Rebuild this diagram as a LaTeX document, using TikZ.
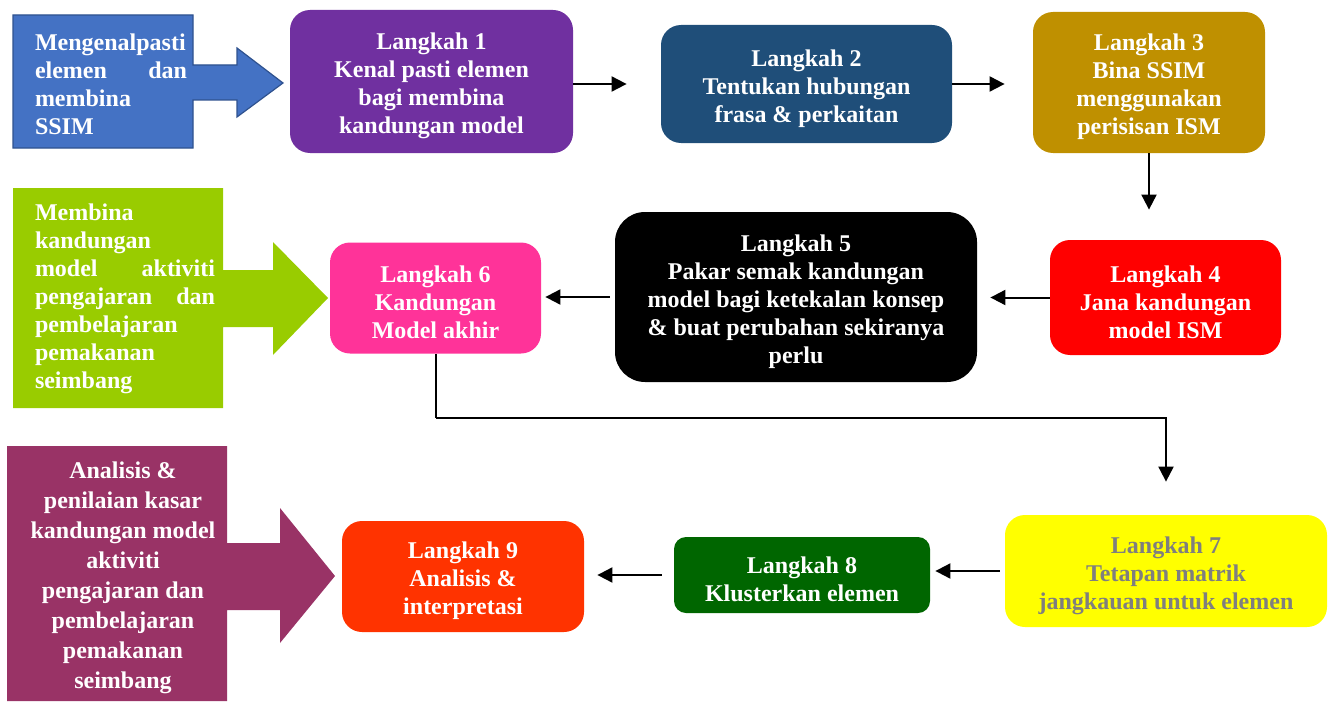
\documentclass[tikz,border=0pt]{standalone}
\usepackage{fontspec}
\setmainfont{Liberation Serif}
\usetikzlibrary{arrows.meta,positioning}
\definecolor{introblue}{HTML}{4472C4}
\definecolor{introedge}{HTML}{2F528F}
\definecolor{buildgreen}{HTML}{99CC00}
\definecolor{analysemaroon}{HTML}{993366}
\definecolor{purple1}{HTML}{7030A0}
\definecolor{navy2}{HTML}{1F4E79}
\definecolor{gold3}{HTML}{BF9000}
\definecolor{red4}{HTML}{FF0000}
\definecolor{pink6}{HTML}{FF3399}
\definecolor{yellow7}{HTML}{FFFF00}
\definecolor{grey7}{HTML}{7F7F7F}
\definecolor{green8}{HTML}{006600}
\definecolor{orange9}{HTML}{FF3300}
\newcommand{\padtop}{\rule{0pt}{13pt}}
\tikzset{
  box/.style={rounded corners=10pt, align=center, text=white, font=\bfseries\fontsize{12}{14}\selectfont, inner sep=3pt},
  stepbox/.style={box, fill=#1},
  sidetext/.style={align=left, text=white, font=\bfseries\fontsize{12}{14}\selectfont, inner sep=0pt},
  arrow/.style={-{Triangle[length=7.5pt,width=7.5pt]}, line width=1pt, draw=black}
}

\begin{document}
\begin{tikzpicture}[x=0.5pt,y=-0.5pt]
\useasboundingbox (0,0) rectangle (1332,701);
% side banners
\filldraw[fill=introblue, draw=introedge, line width=0.6pt] (13,15) -- (193,15) -- (193,65) -- (237,65) -- (237,48) -- (283,83) -- (237,117) -- (237,100) -- (193,100) -- (193,148) -- (13,148) -- cycle;
\fill[buildgreen] (13,188) -- (223,188) -- (223,270) -- (273,270) -- (273,242) -- (328,298) -- (273,355) -- (273,327) -- (223,327) -- (223,408) -- (13,408) -- cycle;
\fill[analysemaroon] (7,446) -- (227,446) -- (227,543) -- (280,543) -- (280,508) -- (335,576) -- (280,643) -- (280,610) -- (227,610) -- (227,701) -- (7,701) -- cycle;
\node[sidetext, text width=76pt] (intro) at (111,84) {Mengenalpasti\\elemen \hfill dan\\membina\\SSIM};
\node[sidetext, text width=90pt] (build) at (125,299) {Membina\\kandungan\\model \hfill aktiviti\\pengajaran \hfill dan\\pembelajaran\\pemakanan\\seimbang};
\node[sidetext, align=center, font=\bfseries\fontsize{12}{15}\selectfont] (analyse) at (123,578) {Analisis \&\\penilaian kasar\\kandungan model\\aktiviti\\pengajaran dan\\pembelajaran\\pemakanan\\seimbang};
% steps
\node[stepbox=purple1, minimum width=141.5pt, minimum height=71.5pt] (s1) at (431.5,81.5) {\padtop Langkah 1\\Kenal pasti elemen\\bagi membina\\kandungan model};
\node[stepbox=navy2, minimum width=145.5pt, minimum height=59pt] (s2) at (806.5,84) {\padtop Langkah 2\\Tentukan hubungan\\frasa \& perkaitan};
\node[stepbox=gold3, minimum width=116pt, minimum height=70.5pt] (s3) at (1149,82.5) {\padtop Langkah 3\\Bina SSIM\\menggunakan\\perisisan ISM};
\node[stepbox=red4, minimum width=115.5pt, minimum height=57.5pt] (s4) at (1165.5,297.5) {\padtop Langkah 4\\Jana kandungan\\model ISM};
\node[stepbox=black, rounded corners=15pt, minimum width=181pt, minimum height=85pt] (s5) at (796,297) {\padtop Langkah 5\\Pakar semak kandungan\\model bagi ketekalan konsep\\\& buat perubahan sekiranya\\perlu};
\node[stepbox=pink6, minimum width=105.5pt, minimum height=55.5pt] (s6) at (435.5,298) {\padtop Langkah 6\\Kandungan\\Model akhir};
\node[stepbox=yellow7, text=grey7, minimum width=161pt, minimum height=56pt] (s7) at (1166,571) {\padtop Langkah 7\\Tetapan matrik\\jangkauan untuk elemen};
\node[stepbox=green8, rounded corners=6pt, minimum width=128pt, minimum height=38pt] (s8) at (802,575) {\padtop Langkah 8\\Klusterkan elemen};
\node[stepbox=orange9, minimum width=121pt, minimum height=55.5pt] (s9) at (463,576.5) {\padtop Langkah 9\\Analisis \&\\interpretasi};
% connectors
\coordinate (bend) at (435.5,418);
\draw[arrow, shorten >=17pt] (s1.east |- s2.west) -- (s2.west);
\draw[arrow, shorten >=14pt] (s2.east) -- (s2.east -| s3.west);
\draw[arrow, shorten >=15pt] (s3.south) -- (s3.south |- s4.north);
\draw[arrow, shorten >=6.5pt] (s4.west) -- (s4.west -| s5.east);
\draw[arrow, shorten <=2.5pt, shorten >=2pt] (s5.west) -- (s5.west -| s6.east);
\draw[line width=1pt] (s6.south) -- (bend);
\draw[arrow, shorten >=16.5pt] (bend) -| (s7.north);
\draw[arrow, shorten <=2.5pt, shorten >=2.5pt] (s7.west) -- (s7.west -| s8.east);
\draw[arrow, shorten <=6pt, shorten >=6.5pt] (s8.west) -- (s8.west -| s9.east);
\end{tikzpicture}
\end{document}
